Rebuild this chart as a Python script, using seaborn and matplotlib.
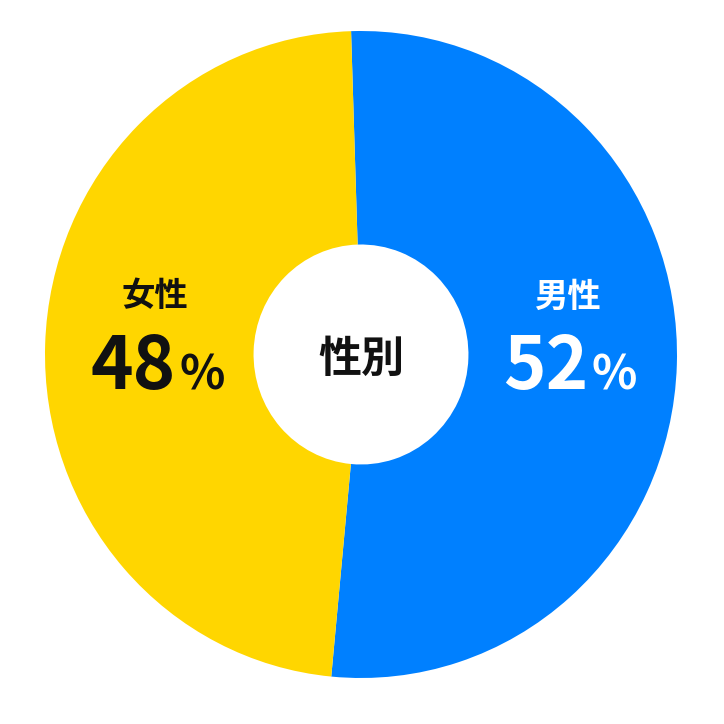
import matplotlib
matplotlib.use("Agg")
import matplotlib.pyplot as plt
import seaborn as sns

# data
labels = ["男性", "女性"]
shares = [52, 48]
colors = ["#0080FF", "#FFD600"]
text_colors = ["white", "#111111"]
center_label = "性別"

sns.set_theme(style="white")
plt.rcParams["font.family"] = ["Noto Sans CJK JP", "DejaVu Sans"]
palette = sns.color_palette(colors)

fig = plt.figure(figsize=(7.24, 7.24), dpi=100)
ax = fig.add_axes([0, 0, 1, 1])

ax.pie(
    shares,
    colors=palette,
    startangle=91.8,
    counterclock=False,
    radius=1.0,
    wedgeprops=dict(width=0.66, linewidth=0),
)

# labels on each side of the hole
sides = [1, -1]
for lab, val, tc, s in zip(labels, shares, text_colors, sides):
    x = 0.652 * s
    ax.text(x, 0.178, lab, ha="center", va="center", fontsize=24,
            fontweight="bold", color=tc)
    ax.text(x + 0.067, -0.107, str(val), ha="right", va="baseline",
            fontsize=52, fontweight="bold", color=tc)
    ax.text(x + 0.077, -0.107, "%", ha="left", va="baseline",
            fontsize=34, fontweight="bold", color=tc)

ax.text(0, -0.014, center_label, ha="center", va="center", fontsize=31,
        fontweight="bold", color="#111111")

# the reference is slightly taller than wide
ax.set_xlim(-361 / 316, 363 / 316)
ax.set_ylim(-369.5 / 323.5, 354.5 / 323.5)
ax.set_aspect("auto")
ax.axis("off")

fig.savefig("out.png", dpi=100, facecolor="white")
